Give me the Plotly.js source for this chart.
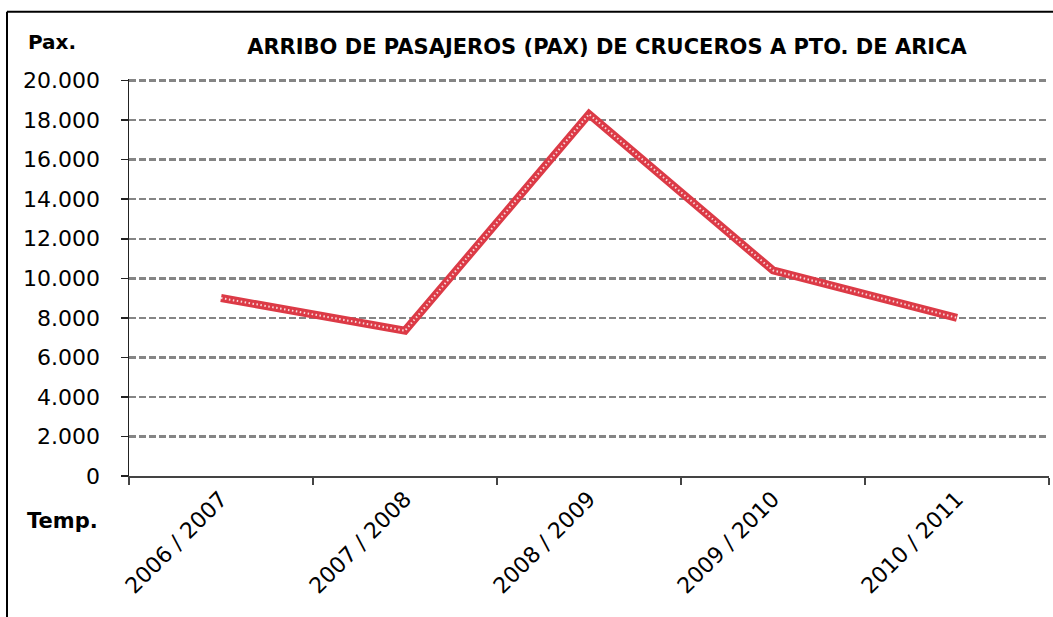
<!DOCTYPE html>
<html>
<head>
<meta charset="utf-8">
<script src="https://cdn.plot.ly/plotly-3.0.1.min.js"></script>
<style>html,body{margin:0;padding:0;background:#fff;}#chart{width:1053px;height:617px;}</style>
</head>
<body>
<div id="chart"></div>
<script>
const categories = ["2006 / 2007", "2007 / 2008", "2008 / 2009", "2009 / 2010", "2010 / 2011"];
const pax = [9000, 7350, 18300, 10400, 8000];
const yTicks = [0, 2000, 4000, 6000, 8000, 10000, 12000, 14000, 16000, 18000, 20000];
const yTickLabels = ["0", "2.000", "4.000", "6.000", "8.000", "10.000", "12.000", "14.000", "16.000", "18.000", "20.000"];

const lineColor = "#dc3a46";
const traces = [
  {x: categories, y: pax, type: "scatter", mode: "lines",
   line: {color: lineColor, width: 8}, hoverinfo: "skip", showlegend: false},
  {x: categories, y: pax, type: "scatter", mode: "lines",
   line: {color: "rgba(255,255,255,0.8)", width: 2, dash: "1.5px,2.5px"}, hoverinfo: "skip", showlegend: false}
];

const layout = {
  width: 1053, height: 617,
  margin: {l: 129, r: 4, t: 79, b: 141},
  paper_bgcolor: "#fff", plot_bgcolor: "#fff",
  showlegend: false,
  title: {text: "<b>ARRIBO DE PASAJEROS (PAX) DE CRUCEROS A PTO. DE ARICA</b>",
          font: {family: "DejaVu Sans", size: 21, color: "#000"},
          x: 607/1053, xanchor: "center", y: 1 - 47/617, yanchor: "middle"},
  xaxis: {
    type: "category", tickson: "boundaries", ticks: "outside", ticklen: 7, tickcolor: "#444", tickwidth: 1.5,
    showline: true, linecolor: "#444", linewidth: 1.5, showgrid: false,
    tickangle: -45, tickfont: {family: "DejaVu Sans", size: 22, color: "#000"},
    range: [-0.5, 4.5]
  },
  yaxis: {
    range: [0, 20080], tickmode: "array", tickvals: yTicks, ticktext: yTickLabels,
    ticks: "outside", ticklen: 7, tickcolor: "#222", tickwidth: 1.5,
    showline: true, linecolor: "#222", linewidth: 1.5,
    showgrid: true, gridcolor: "#858585", gridwidth: 2.5, griddash: "7px,3px",
    zeroline: false, ticklabelstandoff: 16,
    tickfont: {family: "DejaVu Sans", size: 22, color: "#000"}
  },
  annotations: [
    {text: "<b>Pax.</b>", xref: "paper", yref: "paper", x: (26-129)/920, y: 1 + (80-43)/396,
     xanchor: "left", yanchor: "middle", showarrow: false,
     font: {family: "DejaVu Sans", size: 20, color: "#000"}},
    {text: "<b>Temp.</b>", xref: "paper", yref: "paper", x: (25-129)/920, y: -(521-476)/396,
     xanchor: "left", yanchor: "middle", showarrow: false,
     font: {family: "DejaVu Sans", size: 21, color: "#000"}}
  ],
  shapes: [
    {type: "line", xref: "paper", yref: "paper", x0: (7-129)/920, x1: (1060-129)/920,
     y0: 1 + (80-13)/396, y1: 1 + (80-13)/396, line: {color: "#000", width: 2}},
    {type: "line", xref: "paper", yref: "paper", x0: (7-129)/920, x1: (7-129)/920,
     y0: 1 + (80-13)/396, y1: -(640-476)/396, line: {color: "#000", width: 2}}
  ]
};
Plotly.newPlot("chart", traces, layout, {displayModeBar: false, staticPlot: true});
</script>
</body>
</html>
